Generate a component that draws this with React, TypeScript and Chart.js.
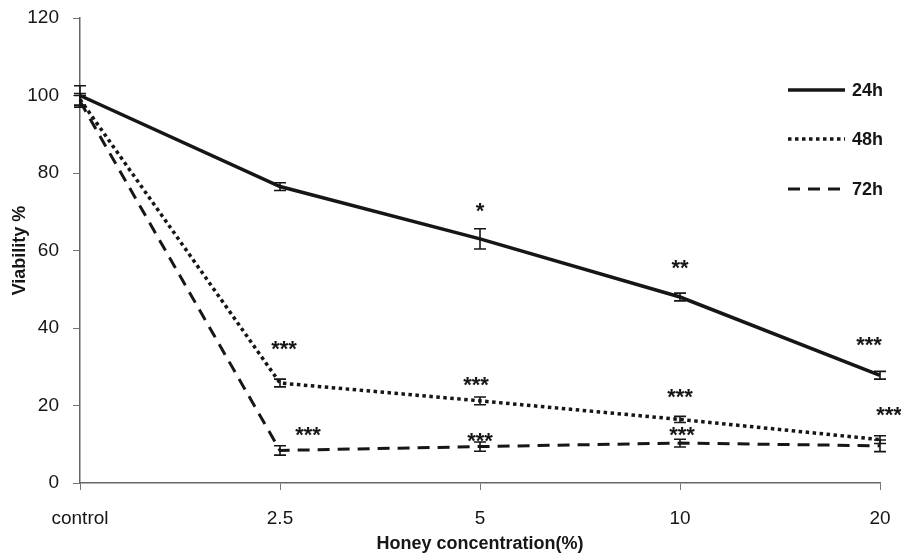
import { useEffect, useRef } from 'react';
import { Chart, registerables } from 'chart.js';

Chart.register(...registerables);

// categories and values
const concentrations = ['control', '2.5', '5', '10', '20'];
const viability24 = [100, 76.5, 63, 48, 27.8];
const error24 = [2.5, 1, 2.6, 1, 1];
const viability48 = [99, 25.8, 21.2, 16.4, 11.2];
const error48 = [1.5, 1, 1, 0.8, 1];
const viability72 = [98.5, 8.4, 9.4, 10.3, 9.6];
const error72 = [1.5, 1.2, 1.2, 1, 1.5];

// significance marks: text, category position, value position
const sigText = ['*', '**', '***', '***', '***', '***', '***', '***', '***', '***'];
const sigPos = [2, 3, 3.945, 1.02, 1.98, 3, 4.045, 1.14, 2, 3.01];
const sigValue = [71.7, 57, 37.2, 36.1, 26.8, 23.7, 19.1, 13.9, 12.4, 13.9];

const yTicks = [0, 20, 40, 60, 80, 100, 120];

const FONT = '"Liberation Sans", Arial, sans-serif';
const INK = '#161616';

const errorBars = {
    id: 'errorBars',
    afterDatasetsDraw(chart: any) {
        const { ctx, scales } = chart;
        const errs = [error24, error48, error72];
        ctx.save();
        ctx.strokeStyle = INK;
        ctx.lineWidth = 1.6;
        chart.data.datasets.forEach((ds: any, i: number) => {
            ds.data.forEach((v: number, j: number) => {
                const x = scales.x.getPixelForValue(j);
                const top = scales.y.getPixelForValue(v + errs[i][j]);
                const bot = scales.y.getPixelForValue(v - errs[i][j]);
                ctx.beginPath();
                ctx.moveTo(x, top);
                ctx.lineTo(x, bot);
                ctx.moveTo(x - 6, top);
                ctx.lineTo(x + 6, top);
                ctx.moveTo(x - 6, bot);
                ctx.lineTo(x + 6, bot);
                ctx.stroke();
            });
        });
        ctx.restore();
    }
};

const stars = {
    id: 'stars',
    afterDatasetsDraw(chart: any) {
        const { ctx, scales } = chart;
        const size = 22;
        ctx.save();
        ctx.fillStyle = INK;
        ctx.font = `bold ${size}px ${FONT}`;
        ctx.textAlign = 'center';
        ctx.textBaseline = 'alphabetic';
        sigText.forEach((t, k) => {
            const x = scales.x.getPixelForValue(sigPos[k]);
            const y = scales.y.getPixelForValue(sigValue[k]);
            ctx.fillText(t, x, y + size * 0.575);
        });
        ctx.restore();
    }
};

const sideLegend = {
    id: 'sideLegend',
    afterDraw(chart: any) {
        const { ctx } = chart;
        const rows = [90, 139, 189];
        ctx.save();
        chart.data.datasets.forEach((ds: any, i: number) => {
            ctx.strokeStyle = INK;
            ctx.lineWidth = ds.borderWidth;
            ctx.setLineDash(ds.borderDash || []);
            ctx.beginPath();
            ctx.moveTo(788, rows[i]);
            ctx.lineTo(845, rows[i]);
            ctx.stroke();
            ctx.setLineDash([]);
            ctx.fillStyle = INK;
            ctx.font = `bold 18px ${FONT}`;
            ctx.textAlign = 'left';
            ctx.textBaseline = 'middle';
            ctx.fillText(ds.label, 852, rows[i] + 1);
        });
        ctx.restore();
    }
};

const App = () => {
    const canvasRef = useRef<HTMLCanvasElement>(null);

    useEffect(() => {
        document.body.style.margin = '0';
        if (!canvasRef.current) return;
        const line = (label: string, data: number[], width: number, dash: number[]) => ({
            label,
            data,
            borderColor: INK,
            borderWidth: width,
            borderDash: dash,
            pointRadius: 0,
            tension: 0,
            fill: false,
            clip: false as any,
        });
        const chart = new Chart(canvasRef.current, {
            type: 'line',
            data: {
                labels: concentrations,
                datasets: [
                    line('24h', viability24, 3.5, []),
                    line('48h', viability48, 3.5, [3.5, 3.5]),
                    line('72h', viability72, 3, [12, 8]),
                ],
            },
            options: {
                animation: false,
                responsive: true,
                maintainAspectRatio: false,
                layout: { padding: { top: 18, right: 21, left: 0, bottom: 0 } },
                plugins: { legend: { display: false }, tooltip: { enabled: false } },
                scales: {
                    x: {
                        offset: false,
                        afterFit: (s: any) => { s.height = 72; s.paddingRight = 0; s.paddingLeft = 0; },
                        grid: { display: true, drawOnChartArea: false, drawTicks: true, tickLength: 7, color: '#777' },
                        border: { display: true, color: '#666', width: 1.5 },
                        ticks: { color: INK, padding: 17, maxRotation: 0, font: { family: FONT, size: 19 } },
                        title: {
                            display: true,
                            text: 'Honey concentration(%)',
                            color: INK,
                            font: { family: FONT, size: 18, weight: 'bold' },
                            padding: { top: 0, bottom: 0 },
                        },
                    },
                    y: {
                        min: 0,
                        max: 120,
                        afterFit: (s: any) => { s.width = 80; s.paddingTop = 0; s.paddingBottom = 0; },
                        afterBuildTicks: (s: any) => { s.ticks = yTicks.map(v => ({ value: v })); },
                        grid: { display: true, drawOnChartArea: false, drawTicks: true, tickLength: 7, color: '#777' },
                        border: { display: true, color: '#666', width: 1.5 },
                        ticks: { color: INK, padding: 14, font: { family: FONT, size: 19 } },
                        title: {
                            display: true,
                            text: 'Viability %',
                            color: INK,
                            font: { family: FONT, size: 18, weight: 'bold' },
                            padding: { top: 9, bottom: 0 },
                        },
                    },
                },
            },
            plugins: [errorBars, stars, sideLegend],
        });
        return () => chart.destroy();
    }, []);

    return (
        <div style={{ width: 901, height: 555, position: 'relative' }}>
            <canvas ref={canvasRef}></canvas>
        </div>
    );
};

export default App;
